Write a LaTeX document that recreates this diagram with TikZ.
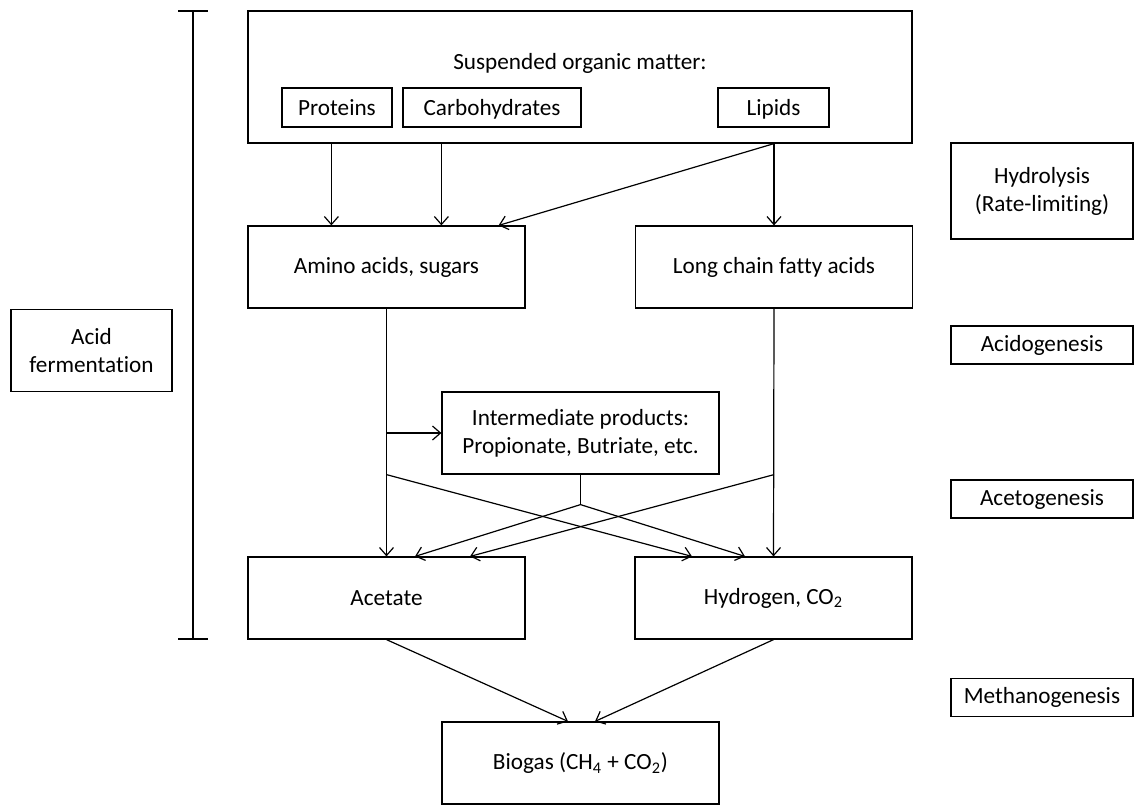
\documentclass[tikz,border=0pt]{standalone}
\usepackage{fontspec}
\setmainfont{Carlito}[Ligatures=NoCommon]
\usepackage{tikz}
\usetikzlibrary{arrows.meta,calc,positioning}
\tikzstyle{box}=[draw, inner sep=0pt, align=center, minimum width=138.5pt, minimum height=41pt]
\tikzstyle{smallbox}=[draw, inner sep=0pt, minimum height=19.5pt, text height=7.5pt, text depth=0pt]
\tikzstyle{stage}=[draw, inner sep=0pt, align=center, minimum width=91pt, minimum height=19pt]
\tikzstyle{flow}=[-{Straight Barb[length=4pt,width=7pt]}]

\begin{document}
\begin{tikzpicture}[x=0.5pt,y=-0.5pt,line width=0.6pt,font=\fontsize{11.6}{14}\selectfont]
        \useasboundingbox (0,0) rectangle (1134,805);
        \node[box, minimum width=332pt, minimum height=66pt] (organic) at (580,77) {};
        \node (susp) at (580,63) {Suspended organic matter:};
        \node[smallbox, minimum width=55pt] (prot) at (337,107.5) {Proteins};
        \node[smallbox, minimum width=89pt] (carb) at (492,107.5) {Carbohydrates};
        \node[smallbox, minimum width=55.5pt] (lip) at (773.5,107.5) {Lipids};
        \node[box] (amino) at (386.5,267) {Amino acids, sugars};
        \node[box] (fatty) at (774,267) {Long chain fatty acids};
        \node[box] (inter) at (580.5,433) {Intermediate products:\\Propionate, Butriate, etc.};
        \node[box] (acetate) at (386.5,598) {Acetate};
        \node[box] (hydrogen) at (773.5,598) {Hydrogen, CO\textsubscript{2}};
        \node[box] (biogas) at (580.5,763) {Biogas (CH\textsubscript{4} + CO\textsubscript{2})};
        \node[box, minimum width=80.5pt] (ferm) at (91.5,350.5) {Acid\\fermentation};
        \node[stage, minimum height=48pt] (hydro) at (1042,191) {Hydrolysis\\(Rate-limiting)};
        \foreach \name/\y/\txt in {acido/345/Acidogenesis,aceto/499/Acetogenesis,methano/697.5/Methanogenesis}{
          \node[stage] (\name) at (1042,\y) {\txt};
        }
        \draw (178,11) -- (208,11) (193,11) -- (193,639) (178,639) -- (208,639);
        \coordinate (p1) at ($(organic.south west)+(84,0)$);
        \coordinate (p2) at ($(organic.south west)+(194,0)$);
        \coordinate (p3) at (organic.south -| fatty.north);
        \draw[flow] (p1) -- (p1 |- amino.north);
        \draw[flow] (p2) -- (p2 |- amino.north);
        \draw[flow] (p3) -- (fatty.north);
        \draw[flow] (p3) -- ($(amino.north east)+(-27,0)$);
        \draw[flow] (amino.south) -- (acetate.north);
        \draw[flow] (amino.south |- inter.west) -- (inter.west);
        \draw[flow] (fatty.south) -- (hydrogen.north);
        \coordinate (split) at ($(inter.south)+(0,30)$);
        \draw (inter.south) -- (split);
        \draw[flow] (split) -- ($(acetate.north)+(28.5,0)$);
        \draw[flow] (split) -- ($(hydrogen.north)+(-28.5,0)$);
        \draw[flow] (amino.south |- inter.south) -- ($(hydrogen.north)+(-81.5,0)$);
        \draw[flow] (fatty.south |- inter.south) -- ($(acetate.north)+(83.5,0)$);
        \draw[flow] (acetate.south) -- ($(biogas.north)+(-12.5,0)$);
        \draw[flow] (hydrogen.south) -- ($(biogas.north)+(14.5,0)$);
      \end{tikzpicture}
\end{document}
